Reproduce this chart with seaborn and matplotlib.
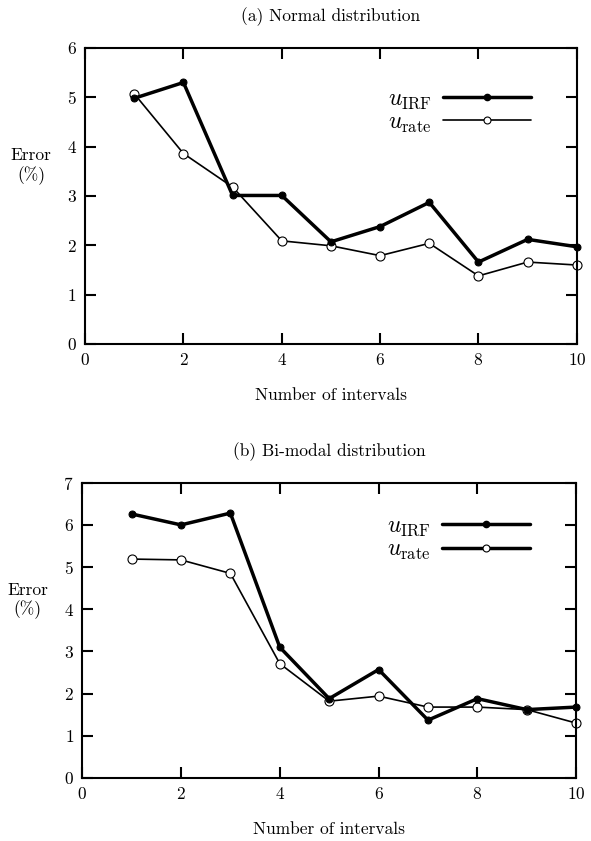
import matplotlib
matplotlib.use("Agg")
import matplotlib.pyplot as plt
import seaborn as sns
import pandas as pd
from matplotlib.lines import Line2D

intervals = [1, 2, 3, 4, 5, 6, 7, 8, 9, 10]
normal_irf = [4.98, 5.30, 3.01, 3.01, 2.07, 2.38, 2.87, 1.66, 2.12, 1.97]
normal_rate = [5.07, 3.86, 3.18, 2.09, 1.99, 1.79, 2.04, 1.38, 1.66, 1.60]
bimodal_irf = [6.26, 6.00, 6.28, 3.10, 1.88, 2.57, 1.37, 1.88, 1.62, 1.68]
bimodal_rate = [5.19, 5.17, 4.85, 2.71, 1.82, 1.94, 1.68, 1.68, 1.62, 1.30]

titles = ["(a) Normal distribution", "(b) Bi-modal distribution"]
xlabel = "Number of intervals"
ylabel = "Error\n(%)"
label_irf = r"$u_{\rm IRF}$"
label_rate = r"$u_{\rm rate}$"

sns.set_theme(style="ticks")
plt.rcParams["font.family"] = ["cmr10", "DejaVu Serif"]
plt.rcParams["mathtext.fontset"] = "cm"
plt.rcParams["axes.formatter.use_mathtext"] = True
plt.rcParams["text.color"] = "black"
plt.rcParams["axes.labelcolor"] = "black"
plt.rcParams["xtick.color"] = "black"
plt.rcParams["ytick.color"] = "black"

fig = plt.figure(figsize=(5.91, 8.41), dpi=100)
ax1 = fig.add_axes([0.144, 0.591, 0.832, 0.352])
ax2 = fig.add_axes([0.139, 0.075, 0.836, 0.351])

panels = [
    (ax1, normal_irf, normal_rate, 6, titles[0], 0.905),
    (ax2, bimodal_irf, bimodal_rate, 7, titles[1], 0.93),
]

for ax, irf, rate, ymax, title, legy in panels:
    df_irf = pd.DataFrame({"x": intervals, "y": irf})
    df_rate = pd.DataFrame({"x": intervals, "y": rate})
    sns.lineplot(data=df_rate, x="x", y="y", ax=ax, color="black", lw=1.2,
                 marker="o", markersize=6.5, markerfacecolor="white",
                 markeredgecolor="black", markeredgewidth=0.8, clip_on=False)
    sns.lineplot(data=df_irf, x="x", y="y", ax=ax, color="black", lw=2.5,
                 marker="o", markersize=5, markerfacecolor="black",
                 markeredgecolor="black", clip_on=False)
    ax.set_xlim(0, 10)
    ax.set_ylim(0, ymax)
    ax.set_xticks(range(0, 11, 2))
    ax.set_yticks(range(0, ymax + 1))
    ax.tick_params(direction="in", length=8, width=1.5, top=True, right=True,
                   labelsize=12.5, colors="black", pad=6)
    for s in ax.spines.values():
        s.set_visible(True)
        s.set_linewidth(1.5)
        s.set_color("black")
    ax.set_xlabel(xlabel, fontsize=12.5, labelpad=14, color="black")
    ax.set_ylabel(ylabel, fontsize=12.5, rotation=0, ha="center", va="center",
                  color="black")
    ax.yaxis.set_label_coords(-0.11, 0.6)
    ax.set_title(title, fontsize=12.5, pad=19, color="black")
    handles = [
        Line2D([], [], color="black", lw=2.5, marker="o", markersize=4.5,
               markerfacecolor="black"),
        Line2D([], [], color="black", lw=2.5 if ax is ax2 else 1.2, marker="o",
               markersize=5, markerfacecolor="white", markeredgewidth=0.8),
    ]
    ax.legend(handles, [label_irf, label_rate], loc="upper right",
              bbox_to_anchor=(0.93, legy), frameon=False, markerfirst=False,
              fontsize=17, handlelength=3.7, labelspacing=0.02,
              handletextpad=0.5, borderpad=0, labelcolor="black")

fig.savefig("out.png", dpi=100)
